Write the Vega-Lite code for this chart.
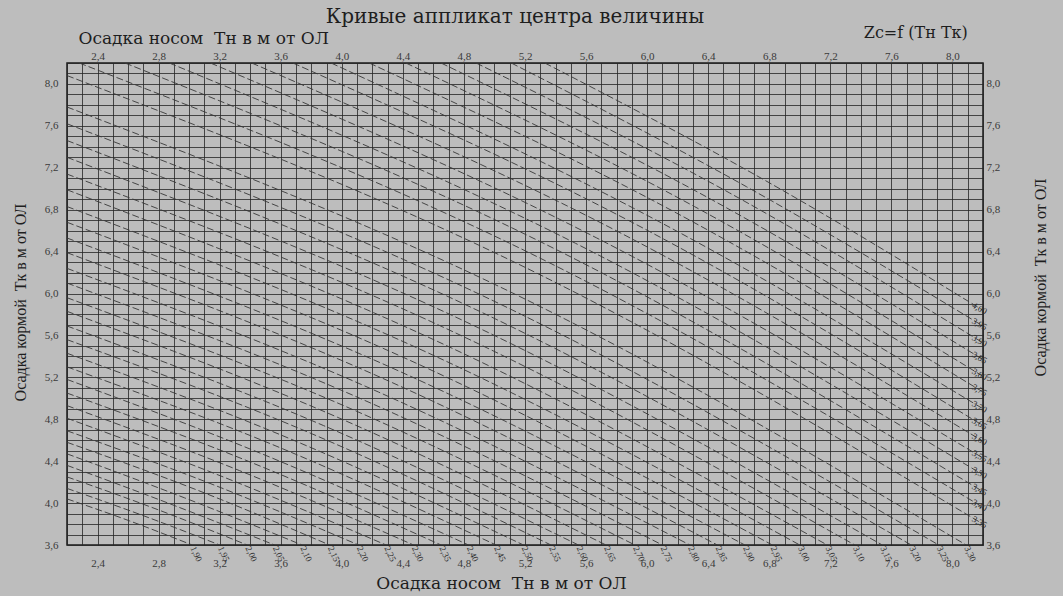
{
  "$schema": "https://vega.github.io/schema/vega-lite/v6.json",
  "width": 916,
  "height": 482,
  "autosize": {"type": "none"},
  "padding": {"left": 67, "top": 63, "right": 80, "bottom": 51},
  "background": "#bdbdbd",
  "title": {
    "text": "Кривые аппликат центра величины",
    "font": "DejaVu Serif",
    "fontSize": 20,
    "fontWeight": "normal",
    "color": "#1e1e1e",
    "anchor": "middle",
    "dx": -10,
    "dy": 8,
    "offset": 6
  },
  "config": {
    "locale": {
      "number": {"decimal": ",", "thousands": " ", "grouping": [3], "currency": ["", " руб."]}
    },
    "view": {"stroke": "#1a1a1a", "strokeWidth": 1.5},
    "axis": {
      "labelFont": "Liberation Serif",
      "titleFont": "DejaVu Serif",
      "labelColor": "#3a3a3a",
      "titleColor": "#1e1e1e",
      "titleFontWeight": "normal",
      "labelFontSize": 11,
      "titleFontSize": 17,
      "ticks": false,
      "domain": false
    }
  },
  "datasets": {
    "curves": [
      {"z": 1.90, "o": 0, "tn": 2.2, "tk": 4.04}, {"z": 1.90, "o": 1, "tn": 2.61, "tk": 3.83}, {"z": 1.90, "o": 2, "tn": 3.02, "tk": 3.6},
      {"z": 1.95, "o": 0, "tn": 2.2, "tk": 4.14}, {"z": 1.95, "o": 1, "tn": 2.70, "tk": 3.88}, {"z": 1.95, "o": 2, "tn": 3.20, "tk": 3.6},
      {"z": 2.00, "o": 0, "tn": 2.2, "tk": 4.25}, {"z": 2.00, "o": 1, "tn": 2.79, "tk": 3.94}, {"z": 2.00, "o": 2, "tn": 3.38, "tk": 3.6},
      {"z": 2.05, "o": 0, "tn": 2.2, "tk": 4.36}, {"z": 2.05, "o": 1, "tn": 2.88, "tk": 3.99}, {"z": 2.05, "o": 2, "tn": 3.56, "tk": 3.6},
      {"z": 2.10, "o": 0, "tn": 2.2, "tk": 4.47}, {"z": 2.10, "o": 1, "tn": 2.97, "tk": 4.05}, {"z": 2.10, "o": 2, "tn": 3.74, "tk": 3.6},
      {"z": 2.15, "o": 0, "tn": 2.2, "tk": 4.58}, {"z": 2.15, "o": 1, "tn": 3.06, "tk": 4.12}, {"z": 2.15, "o": 2, "tn": 3.92, "tk": 3.6},
      {"z": 2.20, "o": 0, "tn": 2.2, "tk": 4.69}, {"z": 2.20, "o": 1, "tn": 3.15, "tk": 4.18}, {"z": 2.20, "o": 2, "tn": 4.11, "tk": 3.6},
      {"z": 2.25, "o": 0, "tn": 2.2, "tk": 4.81}, {"z": 2.25, "o": 1, "tn": 3.24, "tk": 4.24}, {"z": 2.25, "o": 2, "tn": 4.29, "tk": 3.6},
      {"z": 2.30, "o": 0, "tn": 2.2, "tk": 4.93}, {"z": 2.30, "o": 1, "tn": 3.33, "tk": 4.31}, {"z": 2.30, "o": 2, "tn": 4.47, "tk": 3.6},
      {"z": 2.35, "o": 0, "tn": 2.2, "tk": 5.05}, {"z": 2.35, "o": 1, "tn": 3.42, "tk": 4.38}, {"z": 2.35, "o": 2, "tn": 4.65, "tk": 3.6},
      {"z": 2.40, "o": 0, "tn": 2.2, "tk": 5.18}, {"z": 2.40, "o": 1, "tn": 3.51, "tk": 4.45}, {"z": 2.40, "o": 2, "tn": 4.83, "tk": 3.6},
      {"z": 2.45, "o": 0, "tn": 2.2, "tk": 5.30}, {"z": 2.45, "o": 1, "tn": 3.61, "tk": 4.52}, {"z": 2.45, "o": 2, "tn": 5.01, "tk": 3.6},
      {"z": 2.50, "o": 0, "tn": 2.2, "tk": 5.43}, {"z": 2.50, "o": 1, "tn": 3.70, "tk": 4.59}, {"z": 2.50, "o": 2, "tn": 5.19, "tk": 3.6},
      {"z": 2.55, "o": 0, "tn": 2.2, "tk": 5.56}, {"z": 2.55, "o": 1, "tn": 3.79, "tk": 4.67}, {"z": 2.55, "o": 2, "tn": 5.37, "tk": 3.6},
      {"z": 2.60, "o": 0, "tn": 2.2, "tk": 5.69}, {"z": 2.60, "o": 1, "tn": 3.88, "tk": 4.74}, {"z": 2.60, "o": 2, "tn": 5.55, "tk": 3.6},
      {"z": 2.65, "o": 0, "tn": 2.2, "tk": 5.83}, {"z": 2.65, "o": 1, "tn": 3.97, "tk": 4.82}, {"z": 2.65, "o": 2, "tn": 5.73, "tk": 3.6},
      {"z": 2.70, "o": 0, "tn": 2.2, "tk": 5.96}, {"z": 2.70, "o": 1, "tn": 4.06, "tk": 4.90}, {"z": 2.70, "o": 2, "tn": 5.92, "tk": 3.6},
      {"z": 2.75, "o": 0, "tn": 2.2, "tk": 6.10}, {"z": 2.75, "o": 1, "tn": 4.15, "tk": 4.98}, {"z": 2.75, "o": 2, "tn": 6.10, "tk": 3.6},
      {"z": 2.80, "o": 0, "tn": 2.2, "tk": 6.24}, {"z": 2.80, "o": 1, "tn": 4.24, "tk": 5.06}, {"z": 2.80, "o": 2, "tn": 6.28, "tk": 3.6},
      {"z": 2.85, "o": 0, "tn": 2.2, "tk": 6.39}, {"z": 2.85, "o": 1, "tn": 4.33, "tk": 5.15}, {"z": 2.85, "o": 2, "tn": 6.46, "tk": 3.6},
      {"z": 2.90, "o": 0, "tn": 2.2, "tk": 6.53}, {"z": 2.90, "o": 1, "tn": 4.42, "tk": 5.23}, {"z": 2.90, "o": 2, "tn": 6.64, "tk": 3.6},
      {"z": 2.95, "o": 0, "tn": 2.2, "tk": 6.68}, {"z": 2.95, "o": 1, "tn": 4.51, "tk": 5.32}, {"z": 2.95, "o": 2, "tn": 6.82, "tk": 3.6},
      {"z": 3.00, "o": 0, "tn": 2.2, "tk": 6.83}, {"z": 3.00, "o": 1, "tn": 4.60, "tk": 5.41}, {"z": 3.00, "o": 2, "tn": 7.00, "tk": 3.6},
      {"z": 3.05, "o": 0, "tn": 2.2, "tk": 6.99}, {"z": 3.05, "o": 1, "tn": 4.69, "tk": 5.50}, {"z": 3.05, "o": 2, "tn": 7.18, "tk": 3.6},
      {"z": 3.10, "o": 0, "tn": 2.2, "tk": 7.14}, {"z": 3.10, "o": 1, "tn": 4.78, "tk": 5.60}, {"z": 3.10, "o": 2, "tn": 7.36, "tk": 3.6},
      {"z": 3.15, "o": 0, "tn": 2.2, "tk": 7.30}, {"z": 3.15, "o": 1, "tn": 4.87, "tk": 5.69}, {"z": 3.15, "o": 2, "tn": 7.54, "tk": 3.6},
      {"z": 3.20, "o": 0, "tn": 2.2, "tk": 7.46}, {"z": 3.20, "o": 1, "tn": 4.96, "tk": 5.79}, {"z": 3.20, "o": 2, "tn": 7.73, "tk": 3.6},
      {"z": 3.25, "o": 0, "tn": 2.2, "tk": 7.62}, {"z": 3.25, "o": 1, "tn": 5.05, "tk": 5.89}, {"z": 3.25, "o": 2, "tn": 7.91, "tk": 3.6},
      {"z": 3.30, "o": 0, "tn": 2.2, "tk": 7.78}, {"z": 3.30, "o": 1, "tn": 5.14, "tk": 5.99}, {"z": 3.30, "o": 2, "tn": 8.09, "tk": 3.6},
      {"z": 3.35, "o": 0, "tn": 2.2, "tk": 8.08}, {"z": 3.35, "o": 1, "tn": 5.20, "tk": 6.25}, {"z": 3.35, "o": 2, "tn": 8.2, "tk": 3.80},
      {"z": 3.40, "o": 0, "tn": 2.28, "tk": 8.2}, {"z": 3.40, "o": 1, "tn": 5.24, "tk": 6.38}, {"z": 3.40, "o": 2, "tn": 8.2, "tk": 3.96},
      {"z": 3.45, "o": 0, "tn": 2.58, "tk": 8.2}, {"z": 3.45, "o": 1, "tn": 5.39, "tk": 6.43}, {"z": 3.45, "o": 2, "tn": 8.2, "tk": 4.11},
      {"z": 3.50, "o": 0, "tn": 2.87, "tk": 8.2}, {"z": 3.50, "o": 1, "tn": 5.53, "tk": 6.48}, {"z": 3.50, "o": 2, "tn": 8.2, "tk": 4.27},
      {"z": 3.55, "o": 0, "tn": 3.14, "tk": 8.2}, {"z": 3.55, "o": 1, "tn": 5.67, "tk": 6.53}, {"z": 3.55, "o": 2, "tn": 8.2, "tk": 4.43},
      {"z": 3.60, "o": 0, "tn": 3.41, "tk": 8.2}, {"z": 3.60, "o": 1, "tn": 5.81, "tk": 6.59}, {"z": 3.60, "o": 2, "tn": 8.2, "tk": 4.59},
      {"z": 3.65, "o": 0, "tn": 3.68, "tk": 8.2}, {"z": 3.65, "o": 1, "tn": 5.94, "tk": 6.65}, {"z": 3.65, "o": 2, "tn": 8.2, "tk": 4.74},
      {"z": 3.70, "o": 0, "tn": 3.93, "tk": 8.2}, {"z": 3.70, "o": 1, "tn": 6.06, "tk": 6.70}, {"z": 3.70, "o": 2, "tn": 8.2, "tk": 4.90},
      {"z": 3.75, "o": 0, "tn": 4.18, "tk": 8.2}, {"z": 3.75, "o": 1, "tn": 6.19, "tk": 6.77}, {"z": 3.75, "o": 2, "tn": 8.2, "tk": 5.06},
      {"z": 3.80, "o": 0, "tn": 4.42, "tk": 8.2}, {"z": 3.80, "o": 1, "tn": 6.31, "tk": 6.83}, {"z": 3.80, "o": 2, "tn": 8.2, "tk": 5.21},
      {"z": 3.85, "o": 0, "tn": 4.65, "tk": 8.2}, {"z": 3.85, "o": 1, "tn": 6.43, "tk": 6.89}, {"z": 3.85, "o": 2, "tn": 8.2, "tk": 5.37},
      {"z": 3.90, "o": 0, "tn": 4.88, "tk": 8.2}, {"z": 3.90, "o": 1, "tn": 6.54, "tk": 6.96}, {"z": 3.90, "o": 2, "tn": 8.2, "tk": 5.53},
      {"z": 3.95, "o": 0, "tn": 5.11, "tk": 8.2}, {"z": 3.95, "o": 1, "tn": 6.65, "tk": 7.02}, {"z": 3.95, "o": 2, "tn": 8.2, "tk": 5.69},
      {"z": 4.00, "o": 0, "tn": 5.33, "tk": 8.2}, {"z": 4.00, "o": 1, "tn": 6.76, "tk": 7.09}, {"z": 4.00, "o": 2, "tn": 8.2, "tk": 5.84}
    ]
  },
  "data": {"name": "curves"},
  "layer": [
    {
      "mark": {"type": "line", "interpolate": "monotone", "stroke": "#383838", "strokeWidth": 0.9, "strokeDash": [7, 3], "clip": true},
      "encoding": {
        "x": {
          "field": "tn", "type": "quantitative",
          "scale": {"domain": [2.2, 8.2], "nice": false, "zero": false},
          "axis": {
            "orient": "bottom",
            "values": [2.2,2.3,2.4,2.5,2.6,2.7,2.8,2.9,3.0,3.1,3.2,3.3,3.4,3.5,3.6,3.7,3.8,3.9,4.0,4.1,4.2,4.3,4.4,4.5,4.6,4.7,4.8,4.9,5.0,5.1,5.2,5.3,5.4,5.5,5.6,5.7,5.8,5.9,6.0,6.1,6.2,6.3,6.4,6.5,6.6,6.7,6.8,6.9,7.0,7.1,7.2,7.3,7.4,7.5,7.6,7.7,7.8,7.9,8.0,8.1,8.2],
            "grid": true, "gridColor": "#262626", "gridOpacity": 0.8, "gridWidth": 1,
            "format": ".1f",
            "labelExpr": "round(datum.value * 10) % 4 == 0 ? datum.label : ''",
            "labelPadding": 12,
            "labelFlush": false,
            "title": "Осадка носом\u00a0\u00a0Tн в м от ОЛ",
            "titleX": 434, "titleY": 38, "titleBaseline": "middle", "titleAlign": "center"
          }
        },
        "y": {
          "field": "tk", "type": "quantitative",
          "scale": {"domain": [3.6, 8.2], "nice": false, "zero": false},
          "axis": {
            "orient": "left",
            "values": [3.6,3.7,3.8,3.9,4.0,4.1,4.2,4.3,4.4,4.5,4.6,4.7,4.8,4.9,5.0,5.1,5.2,5.3,5.4,5.5,5.6,5.7,5.8,5.9,6.0,6.1,6.2,6.3,6.4,6.5,6.6,6.7,6.8,6.9,7.0,7.1,7.2,7.3,7.4,7.5,7.6,7.7,7.8,7.9,8.0,8.1,8.2],
            "grid": true, "gridColor": "#262626", "gridOpacity": 0.8, "gridWidth": 1,
            "format": ".1f",
            "labelExpr": "round(datum.value * 10) % 4 == 0 ? datum.label : ''",
            "labelPadding": 9,
            "labelFlush": false,
            "title": "Осадка кормой\u00a0\u00a0Tк в м от ОЛ",
            "titleFont": "Liberation Serif", "titleFontSize": 16,
            "titleAngle": 270, "titleX": -47, "titleY": 239, "titleBaseline": "middle", "titleAlign": "center"
          }
        },
        "detail": {"field": "z", "type": "nominal"},
        "order": {"field": "o", "type": "quantitative"}
      }
    },
    {
      "transform": [{"filter": "datum.o == 2 && datum.tk == 3.6"}],
      "mark": {"type": "text", "angle": 65, "align": "left", "baseline": "middle", "dx": 2, "font": "Liberation Serif", "fontSize": 9, "color": "#2a2a2a"},
      "encoding": {
        "x": {
          "field": "tn", "type": "quantitative",
          "scale": {"domain": [2.2, 8.2], "nice": false, "zero": false},
          "axis": {
            "orient": "top",
            "values": [2.4,2.8,3.2,3.6,4.0,4.4,4.8,5.2,5.6,6.0,6.4,6.8,7.2,7.6,8.0],
            "grid": false,
            "format": ".1f",
            "labelPadding": 2,
            "labelFlush": false,
            "title": "Осадка носом\u00a0\u00a0Tн в м от ОЛ",
            "titleX": 11, "titleY": -25, "titleBaseline": "middle", "titleAlign": "left"
          }
        },
        "y": {
          "field": "tk", "type": "quantitative",
          "scale": {"domain": [3.6, 8.2], "nice": false, "zero": false},
          "axis": {
            "orient": "right",
            "values": [3.6,4.0,4.4,4.8,5.2,5.6,6.0,6.4,6.8,7.2,7.6,8.0],
            "grid": false,
            "format": ".1f",
            "labelPadding": 3,
            "labelFlush": false,
            "title": "Осадка кормой\u00a0\u00a0Tк в м от ОЛ",
            "titleFont": "Liberation Serif", "titleFontSize": 16,
            "titleAngle": 270, "titleX": 57, "titleY": 214, "titleBaseline": "middle", "titleAlign": "center"
          }
        },
        "text": {"field": "z", "type": "quantitative", "format": ".2f"}
      }
    },
    {
      "transform": [{"filter": "datum.o == 2 && datum.tn == 8.2"}],
      "mark": {"type": "text", "angle": 30, "align": "center", "baseline": "middle", "dx": -4, "font": "Liberation Serif", "fontSize": 9, "color": "#2a2a2a"},
      "encoding": {
        "x": {"field": "tn", "type": "quantitative", "scale": {"domain": [2.2, 8.2], "nice": false, "zero": false}, "axis": null},
        "y": {"field": "tk", "type": "quantitative", "scale": {"domain": [3.6, 8.2], "nice": false, "zero": false}, "axis": null},
        "text": {"field": "z", "type": "quantitative", "format": ".2f"}
      }
    },
    {
      "data": {"values": [{"t": "Zc=f (Tн Tк)", "tn": 7.76, "tk": 8.49}]},
      "mark": {"type": "text", "align": "center", "baseline": "middle", "font": "DejaVu Serif", "fontSize": 16, "color": "#1e1e1e"},
      "encoding": {
        "x": {"field": "tn", "type": "quantitative", "scale": {"domain": [2.2, 8.2], "nice": false, "zero": false}, "axis": null},
        "y": {"field": "tk", "type": "quantitative", "scale": {"domain": [3.6, 8.2], "nice": false, "zero": false}, "axis": null},
        "text": {"field": "t", "type": "nominal"}
      }
    }
  ],
  "resolve": {"axis": {"x": "independent", "y": "independent"}}
}
